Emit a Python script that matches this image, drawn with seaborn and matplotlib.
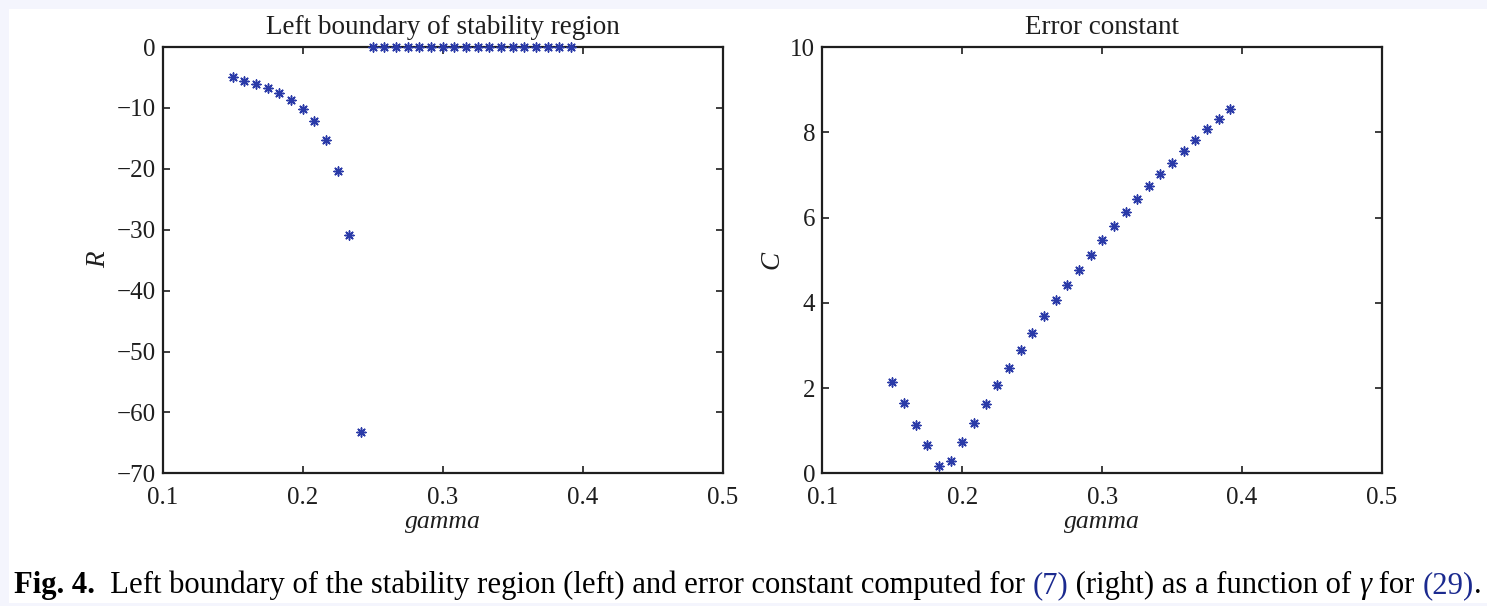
import matplotlib
matplotlib.use("Agg")
import matplotlib.pyplot as plt
import seaborn as sns
import pandas as pd
from matplotlib.patches import Rectangle

# gamma grid used for both panels
gamma = [0.15, 0.1583, 0.1667, 0.175, 0.1833, 0.1917, 0.2, 0.2083, 0.2167, 0.225,
         0.2333, 0.2417, 0.25, 0.2583, 0.2667, 0.275, 0.2833, 0.2917, 0.3, 0.3083,
         0.3167, 0.325, 0.3333, 0.3417, 0.35, 0.3583, 0.3667, 0.375, 0.3833, 0.3917]

# left boundary of the stability region
R = [-5.0, -5.55, -6.1, -6.8, -7.6, -8.7, -10.2, -12.2, -15.2, -20.3, -30.9, -63.3,
     0, 0, 0, 0, 0, 0, 0, 0, 0, 0, 0, 0, 0, 0, 0, 0, 0, 0]

# error constant
C = [2.15, 1.64, 1.14, 0.66, 0.18, 0.28, 0.73, 1.19, 1.63, 2.06, 2.48, 2.89, 3.29,
     3.68, 4.06, 4.42, 4.78, 5.13, 5.48, 5.80, 6.12, 6.43, 6.73, 7.02, 7.29, 7.57,
     7.82, 8.07, 8.31, 8.54]

x_ticks = [0.1, 0.2, 0.3, 0.4, 0.5]
x_ticklabels = ["0.1", "0.2", "0.3", "0.4", "0.5"]
r_ticks = [-70, -60, -50, -40, -30, -20, -10, 0]
r_ticklabels = ["\u221270", "\u221260", "\u221250", "\u221240", "\u221230", "\u221220", "\u221210", "0"]
c_ticks = [0, 2, 4, 6, 8, 10]
c_ticklabels = ["0", "2", "4", "6", "8", "10"]

titles = ["Left boundary of stability region", "Error constant"]

df = pd.DataFrame({"gamma": gamma, "R": R, "C": C})

sns.set_style("ticks")
plt.rcParams["font.family"] = ["Liberation Serif", "DejaVu Serif"]
plt.rcParams["axes.linewidth"] = 1.6
plt.rcParams["axes.edgecolor"] = "#1e1e1e"

TXT = "#1e1e1e"
MARK = "#2a3aa8"
FS_TICK = 18
FS_TITLE = 19.5
FS_LABEL = 18.5

fig = plt.figure(figsize=(14.87, 6.06), dpi=100)
fig.patch.set_facecolor("#f4f5fd")
fig.add_artist(Rectangle((9 / 1487, 3 / 606), 1 - 9 / 1487, (603 - 9) / 606,
                         transform=fig.transFigure, facecolor="white",
                         edgecolor="none", zorder=-10))

ax1 = fig.add_axes([162.7 / 1487, 1 - 473.3 / 606, 560 / 1487, 426.3 / 606])
ax2 = fig.add_axes([822.3 / 1487, 1 - 473.3 / 606, 559.7 / 1487, 426.3 / 606])

asterisk = (8, 2, 0)

def draw(ax, col, yticks, yticklabels, ylim, ylabel, title):
    sns.scatterplot(data=df, x="gamma", y=col, ax=ax, marker=asterisk, s=42,
                    color=MARK, edgecolor=MARK, linewidth=1.1, clip_on=False,
                    zorder=5, legend=False)
    ax.set_xlim(0.1, 0.5)
    ax.set_ylim(*ylim)
    ax.set_xticks(x_ticks)
    ax.set_xticklabels(x_ticklabels)
    ax.set_yticks(yticks)
    ax.set_yticklabels(yticklabels)
    for s in ax.spines.values():
        s.set_visible(True)
    ax.tick_params(direction="in", length=5, width=1.2, top=True, right=True,
                   labelsize=FS_TICK, colors=TXT)
    ax.tick_params(axis="x", pad=10)
    ax.tick_params(axis="y", pad=5)
    ax.set_xlabel("gamma", fontsize=FS_LABEL, style="italic", color=TXT, labelpad=1)
    ax.set_ylabel(ylabel, fontsize=FS_LABEL + 1, style="italic", color=TXT, labelpad=4)
    ax.set_title(title, fontsize=FS_TITLE, color=TXT, pad=9)
    ax.set_facecolor("white")

draw(ax1, "R", r_ticks, r_ticklabels, (-70, 0), "R", titles[0])
draw(ax2, "C", c_ticks, c_ticklabels, (0, 10), "C", titles[1])

# figure caption, composed piece by piece
caption = [
    ("Fig. 4.", dict(weight="bold", color="black")),
    ("  Left boundary of the stability region (left) and error constant computed for ", dict(color="black")),
    ("(7)", dict(color="#1b2a8f")),
    (" (right) as a function of ", dict(color="black")),
    ("\u03b3", dict(color="black", style="italic")),
    (" for ", dict(color="black")),
    ("(29)", dict(color="#1b2a8f")),
    (".", dict(color="black")),
]
fig.canvas.draw()
renderer = fig.canvas.get_renderer()
x = 14
y_base = 606 - 593
for txt, kw in caption:
    t = fig.text(x / 1487, y_base / 606, txt, fontsize=22.05, va="baseline", ha="left", **kw)
    bb = t.get_window_extent(renderer)
    x = bb.x1

fig.savefig("out.png", dpi=100, facecolor=fig.get_facecolor())
